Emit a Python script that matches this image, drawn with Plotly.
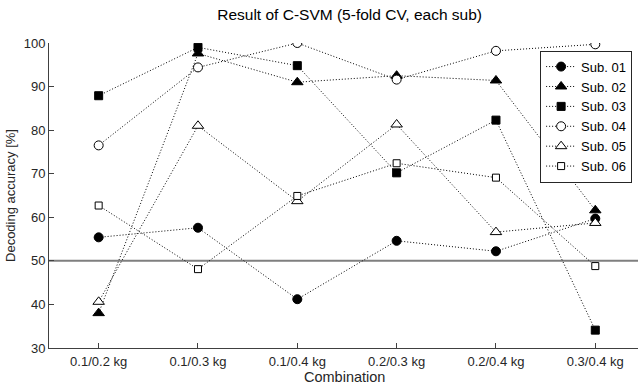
import plotly.graph_objects as go

categories = ["0.1/0.2 kg", "0.1/0.3 kg", "0.1/0.4 kg", "0.2/0.3 kg", "0.2/0.4 kg", "0.3/0.4 kg"]
sub01 = [55.4, 57.6, 41.2, 54.6, 52.2, 59.7]
sub02 = [38.0, 97.6, 91.0, 92.5, 91.4, 61.6]
sub03 = [87.9, 99.0, 94.8, 70.2, 82.3, 34.1]
sub04 = [76.5, 94.4, 100.0, 91.6, 98.2, 99.7]
sub05 = [40.6, 81.0, 63.7, 81.3, 56.6, 58.7]
sub06 = [62.7, 48.1, 64.9, 72.4, 69.1, 48.8]
series_names = ["Sub. 01", "Sub. 02", "Sub. 03", "Sub. 04", "Sub. 05", "Sub. 06"]
chance_level = 50

series = [sub01, sub02, sub03, sub04, sub05, sub06]
symbols = ["circle", "triangle-up", "square", "circle", "triangle-up", "square"]
fills = ["black", "black", "black", "white", "white", "white"]
sizes = [9, 10, 8, 9, 10, 7]

x_idx = list(range(len(categories)))
fig = go.Figure()
for name, vals, sym, fc, sz in zip(series_names, series, symbols, fills, sizes):
    fig.add_trace(go.Scatter(
        x=x_idx, y=vals, name=name, mode="lines+markers",
        line=dict(color="black", width=1, dash="1px,2px"),
        marker=dict(symbol=sym, size=sz, color=fc, line=dict(color="black", width=1)),
    ))

fig.add_shape(type="line", xref="paper", x0=0, x1=1, yref="y", y0=chance_level, y1=chance_level,
              line=dict(color="#7f7f7f", width=2), layer="below")

fig.add_annotation(text="Combination", xref="paper", yref="paper", x=0.502, y=-0.095,
                   xanchor="center", yanchor="middle", showarrow=False,
                   font=dict(size=14.5, color="#262626"))

font_family = "Liberation Sans, Arial, sans-serif"
fig.update_layout(
    width=638, height=385,
    margin=dict(l=49, r=0, t=43, b=37),
    paper_bgcolor="white", plot_bgcolor="white",
    font=dict(family=font_family, size=12, color="#262626"),
    title=dict(text="Result of C-SVM (5-fold CV, each sub)", x=0.548, xanchor="center",
               y=0.962, yanchor="middle", font=dict(size=15.5, color="#000000")),
    showlegend=True,
    legend=dict(x=0.99, xanchor="right", y=0.975, yanchor="top",
                bordercolor="#262626", borderwidth=1, bgcolor="white",
                font=dict(size=13, color="#000000"), tracegroupgap=0,
                itemwidth=30),
    xaxis=dict(range=[-0.5, 5.43], tickvals=x_idx, ticktext=categories,
               ticks="inside", ticklen=5, tickcolor="#404040",
               showline=True, linecolor="#404040", linewidth=1,
               showgrid=False, zeroline=False, ticklabelstandoff=1,
               tickfont=dict(size=13)),
    yaxis=dict(range=[30, 100], tickvals=[30, 40, 50, 60, 70, 80, 90, 100],
               ticks="inside", ticklen=5, tickcolor="#404040",
               showline=True, linecolor="#404040", linewidth=1,
               showgrid=False, zeroline=False,
               title=dict(text="Decoding accuracy [%]", standoff=5, font=dict(size=13)),
               tickfont=dict(size=13)),
)

fig.write_html("out.html")
